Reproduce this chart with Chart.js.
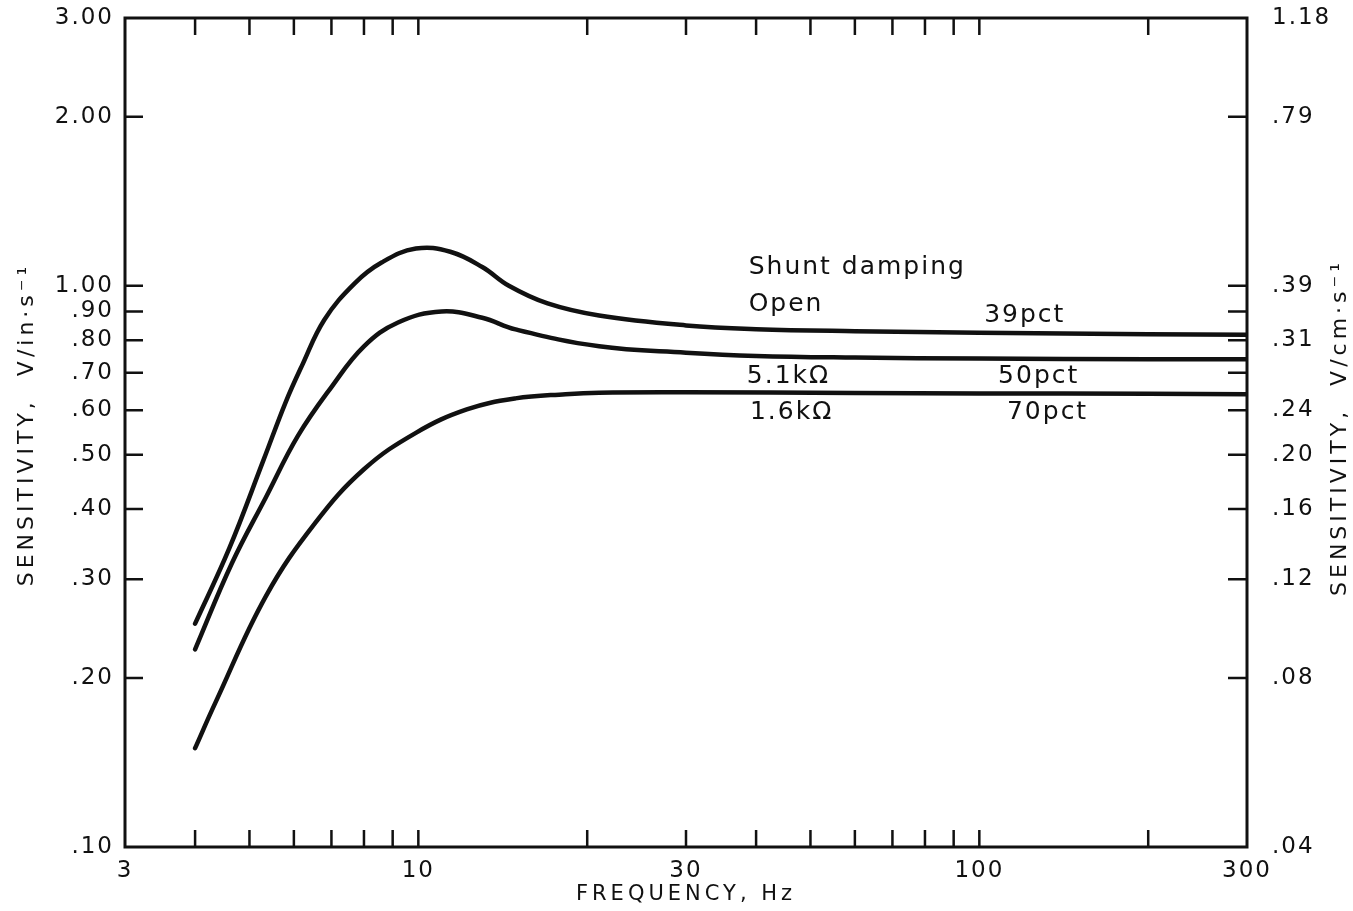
<!DOCTYPE html>
<html>
<head>
<meta charset="utf-8">
<script src="https://cdn.jsdelivr.net/npm/chart.js@4.4.1/dist/chart.umd.min.js"></script>
<style>
  html, body { margin: 0; padding: 0; background: #fff; }
  #wrap { width: 1353px; height: 911px; }
</style>
</head>
<body>
<div id="wrap"><canvas id="sensChart"></canvas></div>
<script>
// Frequency (Hz) sample points
const openFreq = [4, 4.6, 5.3, 5.8, 6.2, 6.8, 7.7, 8.6, 9.9, 11.4, 13, 14.5, 17, 21, 30, 40, 60, 100, 200, 300];
const openSens = [0.25, 0.34, 0.49, 0.62, 0.72, 0.87, 1.01, 1.1, 1.165, 1.15, 1.08, 1.0, 0.93, 0.885, 0.85, 0.837, 0.83, 0.825, 0.82, 0.818];

const mid51Freq = [4, 4.65, 5.35, 6.1, 7.0, 8.0, 9.2, 11, 13, 14.9, 21, 30, 40, 60, 100, 200, 300];
const mid51Sens = [0.225, 0.32, 0.42, 0.54, 0.66, 0.78, 0.86, 0.9, 0.877, 0.836, 0.78, 0.76, 0.75, 0.745, 0.742, 0.74, 0.74];

const low16Freq = [4, 4.35, 5.35, 6.55, 8.0, 9.9, 12.2, 14.9, 18.3, 21, 30, 60, 100, 200, 300];
const low16Sens = [0.15, 0.181, 0.28, 0.378, 0.471, 0.547, 0.602, 0.63, 0.641, 0.645, 0.646, 0.644, 0.643, 0.642, 0.641];

// axis ticks
const xLabelTicks = [3, 10, 30, 100, 300];
const xMinorTicks = [4, 5, 6, 7, 8, 9, 10, 20, 30, 40, 50, 60, 70, 80, 90, 100, 200];
const yTickValues = [0.1, 0.2, 0.3, 0.4, 0.5, 0.6, 0.7, 0.8, 0.9, 1, 2, 3];
const yLeftLabels = ['.10', '.20', '.30', '.40', '.50', '.60', '.70', '.80', '.90', '1.00', '2.00', '3.00'];
const yRightLabels = ['.04', '.08', '.12', '.16', '.20', '.24', '', '.31', '', '.39', '.79', '1.18'];
const yInnerTicks = [0.2, 0.3, 0.4, 0.5, 0.6, 0.7, 0.8, 0.9, 1, 2];

// curve labels (data coords)
const noteText = ['Shunt damping', 'Open', '39pct', '5.1kΩ', '50pct', '1.6kΩ', '70pct'];
const noteFreq = [38.8, 38.8, 102, 38.5, 108, 39, 112];
const noteSens = [1.077, 0.926, 0.885, 0.689, 0.689, 0.595, 0.595];

const xTitle = 'FREQUENCY, Hz';
const yTitle = 'SENSITIVITY,  V/in·s⁻¹';
const y2Title = 'SENSITIVITY,  V/cm·s⁻¹';

const FONT = "'DejaVu Sans', sans-serif";
const INK = '#111';

function toPts(xs, ys) {
    return xs.map((x, i) => ({ x: x, y: ys[i] }));
}

// letter spacing for tick labels (lettering on the original is spaced out)
const spacingPlugin = {
    id: 'spacing',
    beforeDraw(chart) {
        chart.ctx.letterSpacing = '2px';
    }
};

// inner ticks, frame, axis titles and curve labels
const paperPlugin = {
    id: 'paper',
    afterDraw(chart) {
        const ctx = chart.ctx;
        const a = chart.chartArea;
        const sx = chart.scales.x;
        const sy = chart.scales.y;
        ctx.save();
        ctx.strokeStyle = INK;
        ctx.lineCap = 'butt';

        // frame
        ctx.lineWidth = 3;
        ctx.strokeRect(a.left, a.top, a.right - a.left, a.bottom - a.top);

        // x ticks top + bottom
        ctx.lineWidth = 2.5;
        xMinorTicks.forEach(v => {
            const px = sx.getPixelForValue(v);
            ctx.beginPath();
            ctx.moveTo(px, a.bottom);
            ctx.lineTo(px, a.bottom - 17);
            ctx.moveTo(px, a.top);
            ctx.lineTo(px, a.top + 17);
            ctx.stroke();
        });

        // y ticks left + right
        yInnerTicks.forEach(v => {
            const py = sy.getPixelForValue(v);
            ctx.beginPath();
            ctx.moveTo(a.left, py);
            ctx.lineTo(a.left + 18, py);
            ctx.moveTo(a.right, py);
            ctx.lineTo(a.right - 19, py);
            ctx.stroke();
        });

        ctx.fillStyle = INK;
        ctx.textBaseline = 'middle';

        // axis titles
        const midY = (a.top + a.bottom) / 2;
        ctx.font = '21px ' + FONT;
        ctx.letterSpacing = '4px';
        ctx.textAlign = 'center';
        ctx.fillText(xTitle, (a.left + a.right) / 2, 895);

        ctx.font = '22px ' + FONT;
        ctx.save();
        ctx.translate(27, midY - 8);
        ctx.rotate(-Math.PI / 2);
        ctx.fillText(yTitle, 0, 0);
        ctx.restore();

        ctx.save();
        ctx.translate(1340, midY - 5);
        ctx.rotate(-Math.PI / 2);
        ctx.fillText(y2Title, 0, 0);
        ctx.restore();

        // notes
        ctx.textAlign = 'left';
        ctx.letterSpacing = '2px';
        ctx.font = '25px ' + FONT;
        noteText.forEach((t, i) => {
            ctx.fillText(t, sx.getPixelForValue(noteFreq[i]), sy.getPixelForValue(noteSens[i]));
        });
        ctx.restore();
    }
};

const lineStyle = {
    borderColor: INK,
    borderWidth: 4.5,
    pointRadius: 0,
    fill: false,
    tension: 0.4,
    borderCapStyle: 'round'
};

// vertical scales: drop the label overflow padding so the plot box spans 18..847
function fitVertical(s, width) {
    s.width = width;
    s.paddingTop = 0;
    s.paddingBottom = 0;
}

new Chart(document.getElementById('sensChart'), {
    type: 'line',
    data: {
        datasets: [
            Object.assign({ label: 'Open', data: toPts(openFreq, openSens) }, lineStyle),
            Object.assign({ label: '5.1kΩ', data: toPts(mid51Freq, mid51Sens) }, lineStyle),
            Object.assign({ label: '1.6kΩ', data: toPts(low16Freq, low16Sens) }, lineStyle)
        ]
    },
    options: {
        responsive: true,
        maintainAspectRatio: false,
        animation: false,
        layout: { padding: { top: 18, left: 0, right: 0, bottom: 0 } },
        plugins: {
            legend: { display: false },
            tooltip: { enabled: false }
        },
        scales: {
            x: {
                type: 'logarithmic',
                position: 'bottom',
                min: 3,
                max: 300,
                afterBuildTicks: s => { s.ticks = xLabelTicks.map(v => ({ value: v })); },
                afterFit: s => { s.height = 911 - 847; },
                grid: { display: false },
                border: { display: false },
                ticks: {
                    color: INK,
                    padding: 2,
                    maxRotation: 0,
                    autoSkip: false,
                    font: { family: FONT, size: 23 },
                    callback: v => String(v)
                }
            },
            y: {
                type: 'logarithmic',
                position: 'left',
                min: 0.1,
                max: 3,
                afterBuildTicks: s => { s.ticks = yTickValues.map(v => ({ value: v })); },
                afterFit: s => fitVertical(s, 125),
                grid: { display: false },
                border: { display: false },
                ticks: {
                    color: INK,
                    padding: 3,
                    autoSkip: false,
                    font: { family: FONT, size: 23 },
                    callback: (v, i) => yLeftLabels[i]
                }
            },
            y2: {
                type: 'logarithmic',
                position: 'right',
                min: 0.1,
                max: 3,
                afterBuildTicks: s => { s.ticks = yTickValues.map(v => ({ value: v })); },
                afterFit: s => fitVertical(s, 1353 - 1247),
                grid: { display: false },
                border: { display: false },
                ticks: {
                    color: INK,
                    padding: 17,
                    autoSkip: false,
                    font: { family: FONT, size: 23 },
                    callback: (v, i) => yRightLabels[i]
                }
            }
        }
    },
    plugins: [spacingPlugin, paperPlugin]
});
</script>
</body>
</html>
